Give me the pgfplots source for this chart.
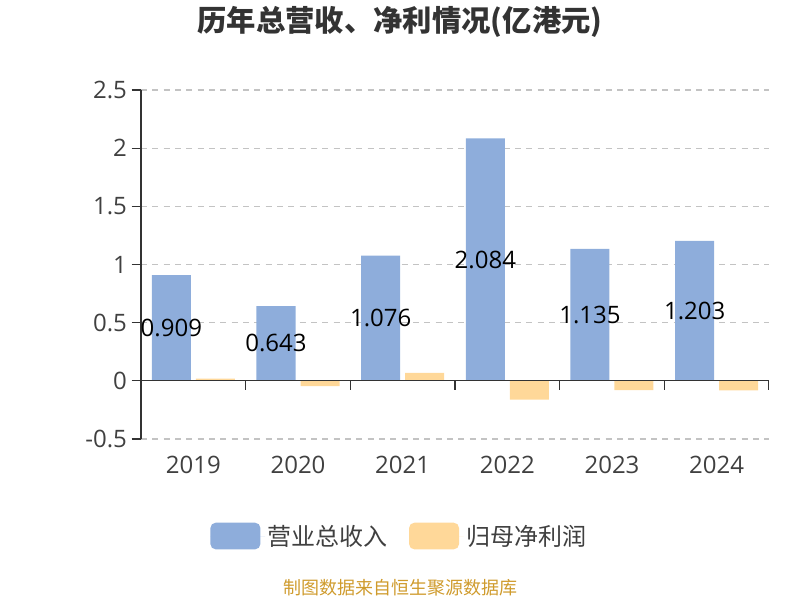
\documentclass[border=0pt]{standalone}
\usepackage{fontspec}
\setmainfont{Open Sans}
\newfontfamily\cjk{Noto Sans CJK SC}
\usepackage{pgfplots}
\usepackage{pgfplotstable}
\pgfplotsset{compat=1.18}
\definecolor{clrRev}{RGB}{142,173,219}
\definecolor{clrNp}{RGB}{255,216,153}
\definecolor{clrAxis}{RGB}{51,51,51}
\definecolor{clrText}{RGB}{64,64,64}
\definecolor{clrGrid}{RGB}{195,195,195}
\definecolor{clrFoot}{RGB}{207,155,45}

% revenue and net profit, 100m HKD
\pgfplotstableread{
x year rev np
0 2019 0.909 0.02
1 2020 0.643 -0.045
2 2021 1.076 0.068
3 2022 2.084 -0.162
4 2023 1.135 -0.080
5 2024 1.203 -0.083
}\data

\begin{document}
\begin{tikzpicture}
\path[use as bounding box] (0,0) rectangle (600pt,450pt);
\node[font=\cjk\bfseries\fontsize{22}{22}\selectfont, text=clrAxis] at (300pt,433.5pt) {历年总营收、净利情况(亿港元)};
\node[font=\cjk\fontsize{13.5}{13.5}\selectfont, text=clrFoot] at (300pt,9pt) {制图数据来自恒生聚源数据库};
\begin{axis}[
  at={(105.75pt,120.75pt)}, anchor=south west,
  scale only axis, width=471pt, height=261.75pt,
  xmin=-0.5, xmax=5.5, ymin=-0.5, ymax=2.5,
  axis lines*=left,
  x axis line style={draw=none},
  y axis line style={clrAxis, line width=1pt},
  xtick={0,...,5},
  xticklabels={2019,2020,2021,2022,2023,2024},
  xtick style={draw=none},
  xticklabel style={yshift=-2pt},
  ytick={-0.5,0,0.5,1,1.5,2,2.5},
  yticklabels={-0.5,0,0.5,1,1.5,2,2.5},
  tick align=outside,
  ytick style={clrAxis, line width=0.8pt},
  major tick length=7pt,
  ticklabel style={font=\fontsize{18}{18}\selectfont, text=clrText},
  /pgf/number format/assume math mode=true,
  ymajorgrids=true,
  grid style={clrGrid, line width=0.9pt, dash pattern=on 4.5pt off 4pt},
  legend style={at={(0.412,-0.278)}, anchor=center, draw=none,
    font=\cjk\fontsize{18}{18}\selectfont, text=clrText,
    /tikz/every even column/.append style={column sep=14pt}},
  legend columns=2,
  legend image code/.code={\fill[#1, rounded corners=4pt] (0pt,-10pt) rectangle (37.5pt,10pt); \path (0pt,0pt) -- (41pt,0pt);},
]
\addplot[ybar, bar width=29.25pt, bar shift=-16.5pt, fill=clrRev, draw=none]
  table[x=x, y=rev] {\data};
\addlegendentry{营业总收入}
\addplot[ybar, bar width=29.25pt, bar shift=16.5pt, fill=clrNp, draw=none]
  table[x=x, y=np] {\data};
\addlegendentry{归母净利润}
% value labels at the middle of the revenue bars
\addplot[draw=none, mark=none, forget plot,
  nodes near coords, point meta=explicit symbolic,
  every node near coord/.append style={anchor=center, xshift=-16.5pt,
    font=\fontsize{18}{18}\selectfont, text=black}]
  table[x=x, y expr=\thisrow{rev}/2, meta=rev] {\data};
\draw[clrAxis, line width=1pt] (axis cs:-0.5,0) -- (axis cs:5.5,0);
\pgfplotsinvokeforeach{0.5,1.5,2.5,3.5,4.5,5.5}{
  \draw[clrAxis, line width=0.8pt] (axis cs:#1,0) -- ([yshift=-7pt]axis cs:#1,0);
}
\end{axis}
\end{tikzpicture}
\end{document}
